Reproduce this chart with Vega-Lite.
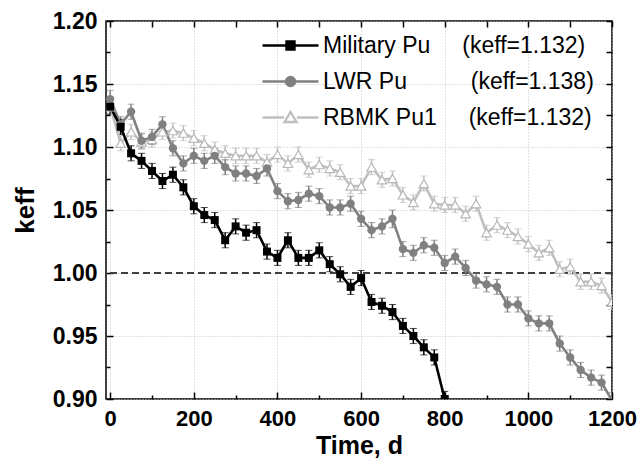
{
  "$schema": "https://vega.github.io/schema/vega-lite/v6.json",
  "width": 506,
  "height": 378,
  "autosize": {"type": "none"},
  "padding": {"left": 106, "top": 21, "right": 28, "bottom": 71},
  "background": "white",
  "config": {
    "view": {"stroke": "black", "strokeWidth": 1.5},
    "font": "Liberation Sans",
    "axis": {"domain": false, "labelColor": "black", "titleColor": "black", "tickColor": "black", "tickWidth": 1.5, "labelFlush": false},
    "legend": {
      "orient": "none", "legendX": 173, "legendY": 13, "padding": 0,
      "labelFont": "Liberation Sans", "labelFontSize": 23, "labelColor": "black", "labelLimit": 400,
      "labelOffset": 21, "rowPadding": 12, "symbolSize": 100, "symbolStrokeWidth": 2.4, "symbolOpacity": 1
    }
  },
  "data": {"values": [
    {"s": "RBMK Pu1", "t": 0, "k": 1.132, "e": 0.006},
    {"s": "RBMK Pu1", "t": 25, "k": 1.103, "e": 0.006},
    {"s": "RBMK Pu1", "t": 50, "k": 1.112, "e": 0.006},
    {"s": "RBMK Pu1", "t": 75, "k": 1.104, "e": 0.006},
    {"s": "RBMK Pu1", "t": 100, "k": 1.106, "e": 0.006},
    {"s": "RBMK Pu1", "t": 125, "k": 1.112, "e": 0.006},
    {"s": "RBMK Pu1", "t": 150, "k": 1.113, "e": 0.006},
    {"s": "RBMK Pu1", "t": 175, "k": 1.111, "e": 0.006},
    {"s": "RBMK Pu1", "t": 200, "k": 1.107, "e": 0.006},
    {"s": "RBMK Pu1", "t": 225, "k": 1.103, "e": 0.006},
    {"s": "RBMK Pu1", "t": 250, "k": 1.098, "e": 0.006},
    {"s": "RBMK Pu1", "t": 275, "k": 1.095, "e": 0.006},
    {"s": "RBMK Pu1", "t": 300, "k": 1.093, "e": 0.006},
    {"s": "RBMK Pu1", "t": 325, "k": 1.093, "e": 0.006},
    {"s": "RBMK Pu1", "t": 350, "k": 1.093, "e": 0.006},
    {"s": "RBMK Pu1", "t": 375, "k": 1.088, "e": 0.006},
    {"s": "RBMK Pu1", "t": 400, "k": 1.094, "e": 0.006},
    {"s": "RBMK Pu1", "t": 425, "k": 1.087, "e": 0.006},
    {"s": "RBMK Pu1", "t": 450, "k": 1.094, "e": 0.006},
    {"s": "RBMK Pu1", "t": 475, "k": 1.082, "e": 0.006},
    {"s": "RBMK Pu1", "t": 500, "k": 1.086, "e": 0.006},
    {"s": "RBMK Pu1", "t": 525, "k": 1.083, "e": 0.006},
    {"s": "RBMK Pu1", "t": 550, "k": 1.080, "e": 0.006},
    {"s": "RBMK Pu1", "t": 575, "k": 1.069, "e": 0.006},
    {"s": "RBMK Pu1", "t": 600, "k": 1.069, "e": 0.006},
    {"s": "RBMK Pu1", "t": 625, "k": 1.084, "e": 0.006},
    {"s": "RBMK Pu1", "t": 650, "k": 1.074, "e": 0.006},
    {"s": "RBMK Pu1", "t": 675, "k": 1.075, "e": 0.006},
    {"s": "RBMK Pu1", "t": 700, "k": 1.062, "e": 0.006},
    {"s": "RBMK Pu1", "t": 725, "k": 1.056, "e": 0.006},
    {"s": "RBMK Pu1", "t": 750, "k": 1.071, "e": 0.006},
    {"s": "RBMK Pu1", "t": 775, "k": 1.055, "e": 0.006},
    {"s": "RBMK Pu1", "t": 800, "k": 1.054, "e": 0.006},
    {"s": "RBMK Pu1", "t": 825, "k": 1.054, "e": 0.006},
    {"s": "RBMK Pu1", "t": 850, "k": 1.047, "e": 0.006},
    {"s": "RBMK Pu1", "t": 875, "k": 1.055, "e": 0.006},
    {"s": "RBMK Pu1", "t": 900, "k": 1.032, "e": 0.006},
    {"s": "RBMK Pu1", "t": 925, "k": 1.038, "e": 0.006},
    {"s": "RBMK Pu1", "t": 950, "k": 1.034, "e": 0.006},
    {"s": "RBMK Pu1", "t": 975, "k": 1.029, "e": 0.006},
    {"s": "RBMK Pu1", "t": 1000, "k": 1.023, "e": 0.006},
    {"s": "RBMK Pu1", "t": 1025, "k": 1.016, "e": 0.006},
    {"s": "RBMK Pu1", "t": 1050, "k": 1.020, "e": 0.006},
    {"s": "RBMK Pu1", "t": 1075, "k": 1.003, "e": 0.006},
    {"s": "RBMK Pu1", "t": 1100, "k": 1.005, "e": 0.006},
    {"s": "RBMK Pu1", "t": 1125, "k": 0.993, "e": 0.006},
    {"s": "RBMK Pu1", "t": 1150, "k": 0.993, "e": 0.006},
    {"s": "RBMK Pu1", "t": 1175, "k": 0.990, "e": 0.006},
    {"s": "RBMK Pu1", "t": 1200, "k": 0.977, "e": 0.006},
    {"s": "LWR Pu", "t": 0, "k": 1.138, "e": 0.007},
    {"s": "LWR Pu", "t": 25, "k": 1.118, "e": 0.006},
    {"s": "LWR Pu", "t": 50, "k": 1.128, "e": 0.006},
    {"s": "LWR Pu", "t": 75, "k": 1.105, "e": 0.006},
    {"s": "LWR Pu", "t": 100, "k": 1.108, "e": 0.006},
    {"s": "LWR Pu", "t": 125, "k": 1.118, "e": 0.006},
    {"s": "LWR Pu", "t": 150, "k": 1.099, "e": 0.006},
    {"s": "LWR Pu", "t": 175, "k": 1.087, "e": 0.006},
    {"s": "LWR Pu", "t": 200, "k": 1.093, "e": 0.006},
    {"s": "LWR Pu", "t": 225, "k": 1.089, "e": 0.006},
    {"s": "LWR Pu", "t": 250, "k": 1.093, "e": 0.006},
    {"s": "LWR Pu", "t": 275, "k": 1.084, "e": 0.006},
    {"s": "LWR Pu", "t": 300, "k": 1.079, "e": 0.006},
    {"s": "LWR Pu", "t": 325, "k": 1.079, "e": 0.006},
    {"s": "LWR Pu", "t": 350, "k": 1.077, "e": 0.006},
    {"s": "LWR Pu", "t": 375, "k": 1.083, "e": 0.006},
    {"s": "LWR Pu", "t": 400, "k": 1.065, "e": 0.006},
    {"s": "LWR Pu", "t": 425, "k": 1.057, "e": 0.006},
    {"s": "LWR Pu", "t": 450, "k": 1.058, "e": 0.006},
    {"s": "LWR Pu", "t": 475, "k": 1.063, "e": 0.006},
    {"s": "LWR Pu", "t": 500, "k": 1.061, "e": 0.006},
    {"s": "LWR Pu", "t": 525, "k": 1.052, "e": 0.006},
    {"s": "LWR Pu", "t": 550, "k": 1.052, "e": 0.006},
    {"s": "LWR Pu", "t": 575, "k": 1.055, "e": 0.006},
    {"s": "LWR Pu", "t": 600, "k": 1.043, "e": 0.006},
    {"s": "LWR Pu", "t": 625, "k": 1.034, "e": 0.006},
    {"s": "LWR Pu", "t": 650, "k": 1.037, "e": 0.006},
    {"s": "LWR Pu", "t": 675, "k": 1.043, "e": 0.007},
    {"s": "LWR Pu", "t": 700, "k": 1.019, "e": 0.006},
    {"s": "LWR Pu", "t": 725, "k": 1.016, "e": 0.006},
    {"s": "LWR Pu", "t": 750, "k": 1.022, "e": 0.006},
    {"s": "LWR Pu", "t": 775, "k": 1.020, "e": 0.006},
    {"s": "LWR Pu", "t": 800, "k": 1.008, "e": 0.006},
    {"s": "LWR Pu", "t": 825, "k": 1.013, "e": 0.006},
    {"s": "LWR Pu", "t": 850, "k": 1.004, "e": 0.006},
    {"s": "LWR Pu", "t": 875, "k": 0.994, "e": 0.006},
    {"s": "LWR Pu", "t": 900, "k": 0.991, "e": 0.006},
    {"s": "LWR Pu", "t": 925, "k": 0.989, "e": 0.006},
    {"s": "LWR Pu", "t": 950, "k": 0.975, "e": 0.006},
    {"s": "LWR Pu", "t": 975, "k": 0.975, "e": 0.006},
    {"s": "LWR Pu", "t": 1000, "k": 0.964, "e": 0.006},
    {"s": "LWR Pu", "t": 1025, "k": 0.960, "e": 0.006},
    {"s": "LWR Pu", "t": 1050, "k": 0.960, "e": 0.006},
    {"s": "LWR Pu", "t": 1075, "k": 0.944, "e": 0.006},
    {"s": "LWR Pu", "t": 1100, "k": 0.933, "e": 0.006},
    {"s": "LWR Pu", "t": 1125, "k": 0.923, "e": 0.006},
    {"s": "LWR Pu", "t": 1150, "k": 0.917, "e": 0.006},
    {"s": "LWR Pu", "t": 1175, "k": 0.913, "e": 0.006},
    {"s": "LWR Pu", "t": 1200, "k": 0.899, "e": 0.006},
    {"s": "Military Pu", "t": 0, "k": 1.132, "e": 0.006},
    {"s": "Military Pu", "t": 25, "k": 1.116, "e": 0.006},
    {"s": "Military Pu", "t": 50, "k": 1.095, "e": 0.006},
    {"s": "Military Pu", "t": 75, "k": 1.089, "e": 0.006},
    {"s": "Military Pu", "t": 100, "k": 1.081, "e": 0.006},
    {"s": "Military Pu", "t": 125, "k": 1.073, "e": 0.006},
    {"s": "Military Pu", "t": 150, "k": 1.078, "e": 0.006},
    {"s": "Military Pu", "t": 175, "k": 1.068, "e": 0.006},
    {"s": "Military Pu", "t": 200, "k": 1.053, "e": 0.006},
    {"s": "Military Pu", "t": 225, "k": 1.046, "e": 0.006},
    {"s": "Military Pu", "t": 250, "k": 1.042, "e": 0.006},
    {"s": "Military Pu", "t": 275, "k": 1.026, "e": 0.006},
    {"s": "Military Pu", "t": 300, "k": 1.037, "e": 0.006},
    {"s": "Military Pu", "t": 325, "k": 1.032, "e": 0.006},
    {"s": "Military Pu", "t": 350, "k": 1.034, "e": 0.006},
    {"s": "Military Pu", "t": 375, "k": 1.017, "e": 0.006},
    {"s": "Military Pu", "t": 400, "k": 1.012, "e": 0.006},
    {"s": "Military Pu", "t": 425, "k": 1.026, "e": 0.006},
    {"s": "Military Pu", "t": 450, "k": 1.012, "e": 0.006},
    {"s": "Military Pu", "t": 475, "k": 1.012, "e": 0.006},
    {"s": "Military Pu", "t": 500, "k": 1.018, "e": 0.006},
    {"s": "Military Pu", "t": 525, "k": 1.007, "e": 0.006},
    {"s": "Military Pu", "t": 550, "k": 0.999, "e": 0.006},
    {"s": "Military Pu", "t": 575, "k": 0.989, "e": 0.006},
    {"s": "Military Pu", "t": 600, "k": 0.996, "e": 0.006},
    {"s": "Military Pu", "t": 625, "k": 0.977, "e": 0.006},
    {"s": "Military Pu", "t": 650, "k": 0.974, "e": 0.006},
    {"s": "Military Pu", "t": 675, "k": 0.969, "e": 0.006},
    {"s": "Military Pu", "t": 700, "k": 0.958, "e": 0.006},
    {"s": "Military Pu", "t": 725, "k": 0.950, "e": 0.006},
    {"s": "Military Pu", "t": 750, "k": 0.941, "e": 0.006},
    {"s": "Military Pu", "t": 775, "k": 0.933, "e": 0.006},
    {"s": "Military Pu", "t": 800, "k": 0.900, "e": 0.006}
  ]},
  "resolve": {"axis": {"x": "independent", "y": "independent"}},
  "layer": [
    {
      "mark": {"type": "rule", "color": "#404040", "strokeWidth": 1.2, "strokeDash": [7, 4]},
      "encoding": {
        "y": {"datum": 1.0, "type": "quantitative", "scale": {"domain": [0.9, 1.2], "zero": false, "nice": false}, "axis": null}
      }
    },
    {
      "mark": {"type": "errorbar", "ticks": {"size": 7, "strokeWidth": 2}, "rule": {"strokeWidth": 1.5}, "clip": true},
      "encoding": {
        "x": {"field": "t", "type": "quantitative", "scale": {"domain": [-10, 1200], "zero": false, "nice": false},
          "axis": {"orient": "bottom", "values": [100, 300, 500, 700, 900, 1100], "labels": false, "grid": false, "tickSize": -4, "title": null}},
        "y": {"field": "k", "type": "quantitative", "scale": {"domain": [0.9, 1.2], "zero": false, "nice": false},
          "axis": {"orient": "left", "values": [0.925, 0.975, 1.025, 1.075, 1.125, 1.175], "labels": false, "grid": false, "tickSize": -4, "title": null}},
        "yError": {"field": "e"},
        "color": {"field": "s", "type": "nominal", "legend": null,
          "scale": {"domain": ["RBMK Pu1", "LWR Pu", "Military Pu"], "range": ["#c0c0c0", "#808080", "#000000"]}}
      }
    },
    {
      "mark": {"type": "line", "strokeWidth": 2.6, "clip": true},
      "encoding": {
        "x": {"field": "t", "type": "quantitative",
          "axis": {"orient": "bottom", "values": [0, 200, 400, 600, 800, 1000, 1200], "format": "d", "tickSize": -7,
            "labelPadding": 16, "labelFontSize": 22, "labelFontWeight": "bold", "labelFlush": false,
            "grid": true, "gridColor": "#c4c4c4", "gridDash": [1, 2], "gridWidth": 1,
            "title": "Time, d", "titleFontSize": 25, "titleFontWeight": "bold", "titlePadding": 4}},
        "y": {"field": "k", "type": "quantitative",
          "axis": {"orient": "left", "values": [0.9, 0.95, 1.0, 1.05, 1.1, 1.15, 1.2], "format": ".2f", "tickSize": -7,
            "labelPadding": 16, "labelFontSize": 23, "labelFontWeight": "bold",
            "grid": true, "gridColor": "#c4c4c4", "gridDash": [1, 2], "gridWidth": 1,
            "title": "keff", "titleFontSize": 26, "titleFontWeight": "bold", "titlePadding": 14}},
        "color": {"field": "s", "type": "nominal", "legend": null}
      }
    },
    {
      "transform": [{"filter": {"field": "s", "equal": "RBMK Pu1"}}],
      "mark": {"type": "point", "shape": "triangle-up", "filled": true, "fill": "#ffffff", "stroke": "#b8b8b8", "strokeWidth": 1.2, "size": 90, "opacity": 1, "clip": true},
      "encoding": {
        "x": {"field": "t", "type": "quantitative",
          "axis": {"orient": "top", "values": [0, 100, 200, 300, 400, 500, 600, 700, 800, 900, 1000, 1100, 1200], "labels": false, "grid": false, "tickSize": -6, "title": null}},
        "y": {"field": "k", "type": "quantitative",
          "axis": {"orient": "right", "values": [0.9, 0.925, 0.95, 0.975, 1.0, 1.025, 1.05, 1.075, 1.1, 1.125, 1.15, 1.175, 1.2], "labels": false, "grid": false, "tickSize": -6, "title": null}}
      }
    },
    {
      "transform": [{"filter": {"field": "s", "equal": "LWR Pu"}}],
      "mark": {"type": "point", "shape": "circle", "filled": true, "color": "#808080", "size": 70, "opacity": 1, "clip": true},
      "encoding": {
        "x": {"field": "t", "type": "quantitative", "axis": null},
        "y": {"field": "k", "type": "quantitative", "axis": null}
      }
    },
    {
      "transform": [{"filter": {"field": "s", "equal": "Military Pu"}}],
      "mark": {"type": "point", "shape": "square", "filled": true, "color": "#000000", "size": 64, "opacity": 1, "clip": true},
      "encoding": {
        "x": {"field": "t", "type": "quantitative", "axis": null},
        "y": {"field": "k", "type": "quantitative", "axis": null}
      }
    },
    {
      "transform": [{"filter": {"field": "t", "lt": -1000}}],
      "mark": {"type": "point", "filled": true, "strokeWidth": 2.4},
      "encoding": {
        "shape": {"field": "s", "type": "nominal",
          "scale": {"domain": ["Military Pu", "LWR Pu", "RBMK Pu1"],
            "range": ["M-5.6,0H5.6M-0.8,-0.8H0.8V0.8H-0.8Z", "M-5.6,0H5.6M0.9,0A0.9,0.9,0,1,1,-0.9,0A0.9,0.9,0,1,1,0.9,0Z", "M-5.6,0H-1.3M1.3,0H5.6M0,-1.1L1.2,0.9H-1.2Z"]},
          "legend": {"title": null,
            "labelExpr": "datum.label === 'Military Pu' ? 'Military Pu\u00a0\u00a0\u00a0\u00a0\u00a0(keff=1.132)' : datum.label === 'LWR Pu' ? 'LWR Pu\u00a0\u00a0\u00a0\u00a0\u00a0\u00a0\u00a0\u00a0\u00a0\u00a0(keff=1.138)' : 'RBMK Pu1\u00a0\u00a0\u00a0\u00a0\u00a0(keff=1.132)'"}},
        "fill": {"field": "s", "type": "nominal",
          "scale": {"domain": ["Military Pu", "LWR Pu", "RBMK Pu1"], "range": ["#000000", "#808080", "#ffffff"]},
          "legend": {"title": null,
            "labelExpr": "datum.label === 'Military Pu' ? 'Military Pu\u00a0\u00a0\u00a0\u00a0\u00a0(keff=1.132)' : datum.label === 'LWR Pu' ? 'LWR Pu\u00a0\u00a0\u00a0\u00a0\u00a0\u00a0\u00a0\u00a0\u00a0\u00a0(keff=1.138)' : 'RBMK Pu1\u00a0\u00a0\u00a0\u00a0\u00a0(keff=1.132)'"}},
        "stroke": {"field": "s", "type": "nominal",
          "scale": {"domain": ["Military Pu", "LWR Pu", "RBMK Pu1"], "range": ["#000000", "#808080", "#c0c0c0"]},
          "legend": {"title": null,
            "labelExpr": "datum.label === 'Military Pu' ? 'Military Pu\u00a0\u00a0\u00a0\u00a0\u00a0(keff=1.132)' : datum.label === 'LWR Pu' ? 'LWR Pu\u00a0\u00a0\u00a0\u00a0\u00a0\u00a0\u00a0\u00a0\u00a0\u00a0(keff=1.138)' : 'RBMK Pu1\u00a0\u00a0\u00a0\u00a0\u00a0(keff=1.132)'"}}
      }
    }
  ]
}
